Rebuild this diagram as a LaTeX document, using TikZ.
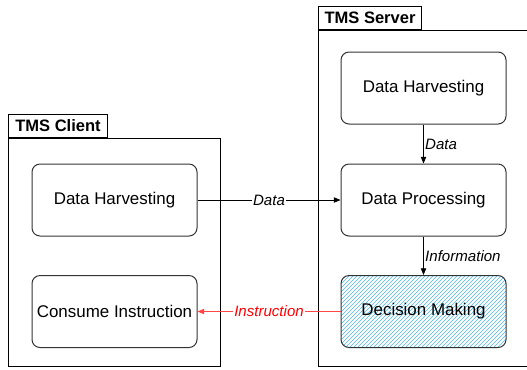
\documentclass[tikz,border=0pt]{standalone}
\usepackage{fontspec}
\setmainfont{Liberation Sans}
\usetikzlibrary{arrows.meta,patterns}
\definecolor{hatchblue}{RGB}{80,185,235}
\definecolor{flowred}{RGB}{255,70,70}

\begin{document}
\begin{tikzpicture}[x=0.75pt,y=-0.75pt,
    box/.style={draw=black!80,rounded corners=6pt,line width=0.75pt,minimum width=123.75pt,minimum height=54pt,inner sep=0pt,font=\fontsize{12.7}{14}\selectfont},
    tab/.style={draw,line width=0.75pt,anchor=south west,minimum height=17.25pt,inner sep=0pt,font=\bfseries\fontsize{12.4}{14}\selectfont},
    frame/.style={draw,line width=0.75pt},
    flow/.style={-{Triangle[length=5pt,width=4pt]},line width=0.6pt},
    lbl/.style={font=\itshape\fontsize{11.3}{13}\selectfont,inner sep=1pt}]

    \clip (0,0) rectangle (527,369);
    \fill[white] (0,0) rectangle (527,369);

    % client and server frames
    \draw[frame] (8,138) rectangle (220,366);
    \draw[frame] (318,30) rectangle (540,366);
    \node[tab,minimum width=74.25pt] (clienttab) at (8,138) {TMS Client};
    \node[tab,minimum width=77.25pt] (servertab) at (318,30) {TMS Server};

    \node[box] (charvest) at (114.5,200) {Data Harvesting};
    \node[box] (consume) at (114.5,311.5) {Consume Instruction};
    \node[box] (sharvest) at (423.5,88) {Data Harvesting};
    \node[box] (process) at (423.5,200) {Data Processing};
    \node[box,pattern=north east lines,pattern color=hatchblue] (decide) at (423.5,311.5) {};
    \node[font=\fontsize{12.7}{14}\selectfont] at (decide) {Decision Making};

    \draw[flow] (charvest) -- node[lbl,fill=white] {Data} (process);
    \draw[flow] (sharvest) -- node[lbl,right] {Data} (process);
    \draw[flow] (process) -- node[lbl,right] {Information} (decide);
    \draw[flow,flowred] (decide) -- node[lbl,fill=white,text=red] {Instruction} (consume);
\end{tikzpicture}
\end{document}
